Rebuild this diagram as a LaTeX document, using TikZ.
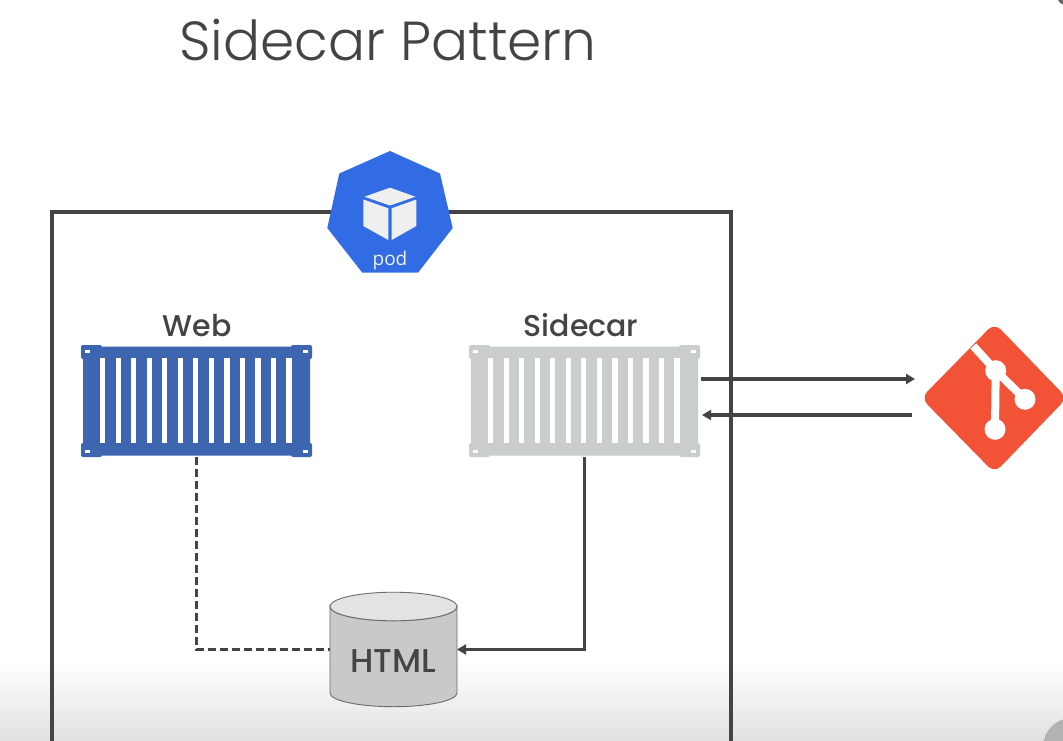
\documentclass[tikz,border=0pt]{standalone}
\usepackage{fontspec}
\setmainfont{Poppins}
\newfontfamily\titlefont{Poppins Light}
\newfontfamily\labelfont{Poppins Medium}
\newfontfamily\podfont{Open Sans}
\usetikzlibrary{arrows.meta}
\definecolor{ink}{HTML}{444444}
\definecolor{podblue}{HTML}{326CE5}
\definecolor{webblue}{HTML}{3D65B0}
\definecolor{sidegray}{HTML}{C9CDCB}
\definecolor{gitred}{HTML}{F25235}
\definecolor{cube}{HTML}{EFEFEF}
\tikzset{
  x=1pt,y=-1pt,
  anchorbox/.style={inner sep=0pt,outer sep=0pt,draw=none},
  wire/.style={draw=ink,line width=3.2pt},
  arrowwire/.style={wire,-{Triangle[length=9pt,width=10pt]}},
  heading/.style={font=\labelfont\fontsize{30}{30}\selectfont,text=ink,inner sep=0pt},
  pics/shipbox/.style={code={
    \fill[#1,rounded corners=1.5pt] (-113.5,-54.5) rectangle (113.5,54.5);
    \foreach \cx/\cy in {-105/-49,105/-49,-105/49,105/49}{
      \fill[#1,rounded corners=2pt] (\cx-10.5,\cy-7) rectangle (\cx+10.5,\cy+7);
    }
    \foreach \hx/\hy in {-109/-50,109/-50,-109/50,109/50}{
      \fill[white] (\hx-2.5,\hy-1.5) rectangle (\hx+2.5,\hy+1.5);
    }
    \foreach \i in {0,...,12}{
      \fill[white] ({-93.8+15.53*\i-2.6},-42.7) rectangle ({-93.8+15.53*\i+2.6},42.3);
    }
  }}
}
\begin{document}
\begin{tikzpicture}
\useasboundingbox (0,0) rectangle (1063,741);
\clip (0,0) rectangle (1063,741);
\fill[white] (0,0) rectangle (1063,741);
% bottom fade
\shade[top color=white,bottom color=black!12,draw=none] (0,662) rectangle (1063,741);
% pod outline
\draw[wire] (52,745) -- (52,212) -- (731,212) -- (731,745);
% screen corners
\fill[black!60] (1066,-4) circle (9);
\fill[black!30] (1072,747) circle (29);
% title
\node[anchor=base west,inner sep=0pt,text=ink,font=\titlefont\fontsize{55}{55}\selectfont] (title) at (179,61) {Sidecar Pattern};
% pod badge
\node[anchorbox,minimum width=126pt,minimum height=122pt] (pod) at (390,212) {};
\fill[podblue] (390,151) -- (440,173.5) -- (452.7,228) -- (418,272.7) -- (362.3,272.7) -- (327.3,228) -- (339.3,173.5) -- cycle;
\fill[cube] (390,187.7) -- (415.5,196.7) -- (390,205.5) -- (364.5,196.7) -- cycle;
\fill[cube] (363.3,199.5) -- (388.3,208.3) -- (388.3,240) -- (363.3,226) -- cycle;
\fill[cube] (416.3,199.5) -- (391.7,208.3) -- (391.7,240) -- (416.3,226) -- cycle;
\node[text=cube,font=\podfont\fontsize{19}{19}\selectfont,inner sep=0pt,anchor=base] (podlabel) at (390,265) {pod};
% containers
\node[anchorbox,minimum width=231pt,minimum height=112pt] (web) at (196.5,401) {};
\pic at (web.center) {shipbox=webblue};
\node[anchorbox,minimum width=229pt,minimum height=112pt] (sidecar) at (584.5,401) {};
\pic at (sidecar.center) {shipbox=sidegray};
\node[heading,anchor=base] (weblabel) at (197,336) {Web};
\node[heading,anchor=base] (sidelabel) at (581,336) {Sidecar};
% HTML store
\node[anchorbox,minimum width=127pt,minimum height=115pt] (html) at (393.5,649.5) {};
\fill[black!21,draw=black!58,line width=0.9pt] (330,606.5) -- (330,693) arc[start angle=180,end angle=360,x radius=63.5,y radius=-13.7] -- (457,606.5) arc[start angle=0,end angle=180,x radius=63.5,y radius=14.3] -- cycle;
\fill[black!11,draw=black!58,line width=0.9pt] (393.5,606.5) ellipse[x radius=63.5,y radius=14.3];
\node[text=ink,font=\labelfont\fontsize{33}{33}\selectfont,inner sep=0pt] (htmllabel) at (393.5,661) {HTML};
% git logo
\node[anchorbox,minimum width=139pt,minimum height=143pt] (git) at (994,398) {};
\fill[gitred,rounded corners=9pt] (994.5,323) -- (1067,398) -- (994.5,473) -- (921,398) -- cycle;
\draw[white,line width=8pt] (973.3,346) -- (995.7,370.7) -- (1025,399.3);
\draw[white,line width=8pt] (995.7,370.7) -- (995,429.3);
\fill[white] (995.7,370.7) circle (10.5) (1025,399.3) circle (10.5) (995,429.3) circle (10.5);
% connectors
\draw[wire,dash pattern=on 8pt off 4pt] (web.south) |- (html.west);
\draw[arrowwire] (sidecar.south) |- (html.east);
\coordinate (syncout) at (701,379);
\coordinate (gitin) at (915,379);
\coordinate (gitout) at (912,415);
\coordinate (syncin) at (702,415);
\draw[arrowwire] (syncout) -- (gitin);
\draw[arrowwire] (gitout) -- (syncin);
\end{tikzpicture}
\end{document}
